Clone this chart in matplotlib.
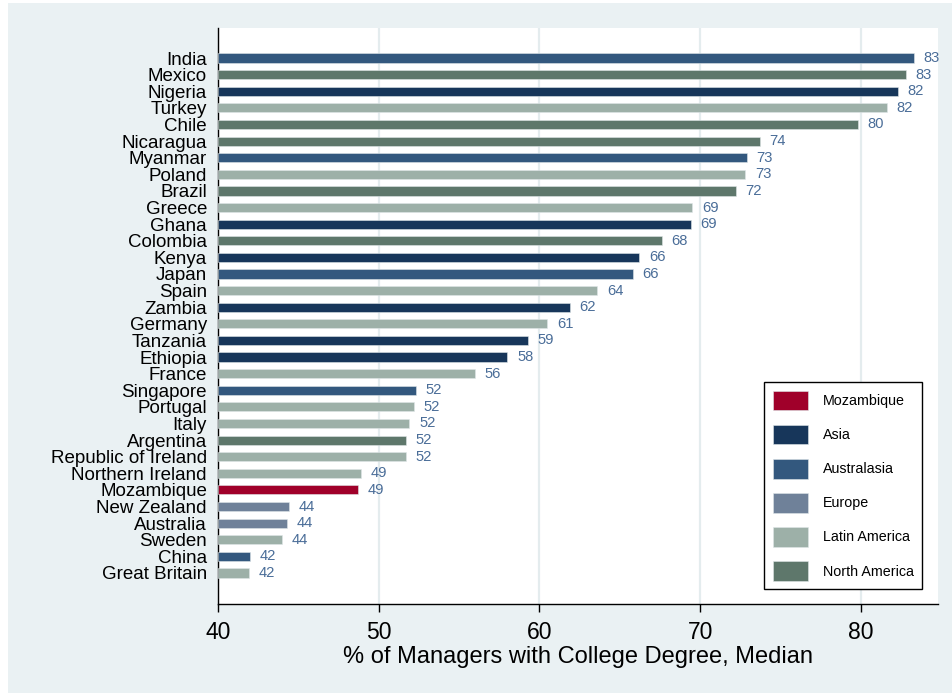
import matplotlib
matplotlib.use("Agg")
import matplotlib.pyplot as plt
from matplotlib.patches import Patch, Rectangle

plt.rcParams['font.family'] = ['Liberation Sans', 'DejaVu Sans']

countries = ['India', 'Mexico', 'Nigeria', 'Turkey', 'Chile', 'Nicaragua', 'Myanmar',
             'Poland', 'Brazil', 'Greece', 'Ghana', 'Colombia', 'Kenya', 'Japan', 'Spain',
             'Zambia', 'Germany', 'Tanzania', 'Ethiopia', 'France', 'Singapore', 'Portugal',
             'Italy', 'Argentina', 'Republic of Ireland', 'Northern Ireland', 'Mozambique',
             'New Zealand', 'Australia', 'Sweden', 'China', 'Great Britain']
values = [83.3, 82.8, 82.3, 81.6, 79.8, 73.7, 72.9, 72.8, 72.2, 69.5, 69.4, 67.6, 66.2,
          65.8, 63.6, 61.9, 60.5, 59.3, 58.0, 56.0, 52.3, 52.2, 51.9, 51.7, 51.7, 48.9,
          48.7, 44.4, 44.3, 44.0, 42.0, 41.9]
labels = [83, 83, 82, 82, 80, 74, 73, 73, 72, 69, 69, 68, 66, 66, 64, 62, 61, 59, 58, 56,
          52, 52, 52, 52, 52, 49, 49, 44, 44, 44, 42, 42]
groups = ['Australasia', 'North America', 'Asia', 'Latin America', 'North America',
          'North America', 'Australasia', 'Latin America', 'North America', 'Latin America',
          'Asia', 'North America', 'Asia', 'Australasia', 'Latin America', 'Asia',
          'Latin America', 'Asia', 'Asia', 'Latin America', 'Australasia', 'Latin America',
          'Latin America', 'North America', 'Latin America', 'Latin America', 'Mozambique',
          'Europe', 'Europe', 'Latin America', 'Australasia', 'Latin America']

group_names = ['Mozambique', 'Asia', 'Australasia', 'Europe', 'Latin America', 'North America']
group_colors = {'Mozambique': '#a0002a', 'Asia': '#17365a', 'Australasia': '#33587e',
                'Europe': '#6f8199', 'Latin America': '#9db0a8', 'North America': '#5e776b'}

bg = '#eaf1f3'
label_col = '#4a6d98'

fig = plt.figure(figsize=(9.53, 6.93), dpi=100, facecolor='white')
fig.patches.append(Rectangle((8 / 953, 0), 1, 1 - 3 / 693, transform=fig.transFigure,
                             facecolor=bg, edgecolor='none', zorder=-10))

ax = fig.add_axes([218 / 953, 1 - 604 / 693, 720 / 953, 576 / 693])
ax.set_facecolor('white')

n = len(countries)
ypos = list(range(n))
colors = [group_colors[g] for g in groups]
ax.barh(ypos, [v - 40 for v in values], left=40, height=0.55, color=colors,
        edgecolor='#dfe6e8', linewidth=0.4, zorder=3)

for y, v, lab in zip(ypos, values, labels):
    ax.annotate(str(lab), (v, y), xytext=(7, 0), textcoords='offset points',
                va='center', ha='left', fontsize=10.6, color=label_col)

ax.set_xlim(40, 84.8)
ax.set_ylim(n - 1 + 1.87, -1.81)
ax.set_yticks(ypos)
ax.set_yticklabels(countries, fontsize=13.5)
ax.tick_params(axis='y', length=0, pad=8)
ax.set_xticks([40, 50, 60, 70, 80])
ax.tick_params(axis='x', labelsize=16.5, length=6, width=1, pad=6, direction='out')
ax.set_xlabel('% of Managers with College Degree, Median', fontsize=17, labelpad=2)

ax.grid(axis='x', color='#e4ecee', linewidth=1.6, zorder=0)
ax.grid(axis='y', visible=False)
ax.set_axisbelow(True)
for s in ['top', 'right']:
    ax.spines[s].set_visible(False)
for s in ['left', 'bottom']:
    ax.spines[s].set_color('black')
    ax.spines[s].set_linewidth(1)

handles = [Patch(facecolor=group_colors[g], edgecolor='#dfe6e8', linewidth=0.4) for g in group_names]
leg = ax.legend(handles, group_names, loc='upper left',
                bbox_to_anchor=(764 / 953, 1 - 382 / 693), bbox_transform=fig.transFigure,
                borderaxespad=0, fontsize=10.3, handlelength=2.45, handleheight=1.75,
                labelspacing=1.0, handletextpad=1.05, borderpad=0.6,
                fancybox=False, framealpha=1, edgecolor='black')
leg.get_frame().set_linewidth(1)

fig.savefig('out.png', dpi=100, facecolor=fig.get_facecolor())
